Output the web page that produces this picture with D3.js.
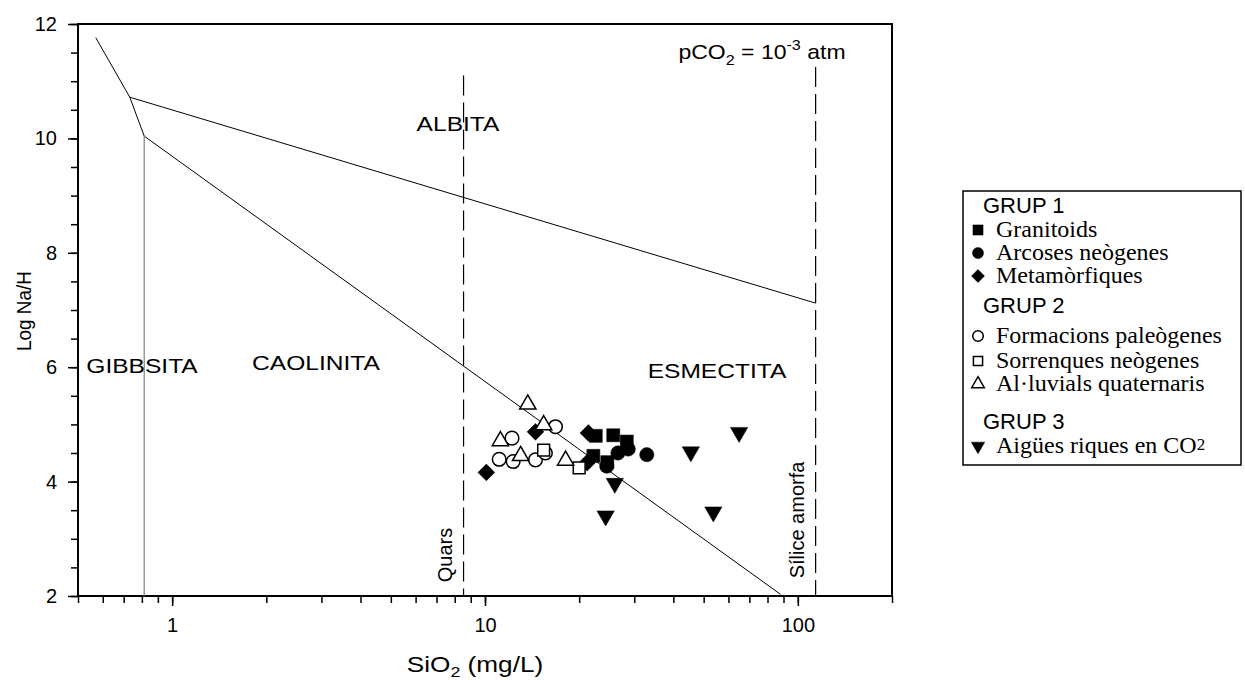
<!DOCTYPE html>
<html lang="ca">
<head>
  <meta charset="UTF-8">
  <title>Log Na/H vs SiO2</title>
  <style>
    body { margin: 0; background: #fff; }
    svg { display: block; }
    .tick text { font-family: Arial, 'Liberation Sans', sans-serif; font-size: 20px; fill: #000; }
    .lab { font-family: Arial, 'Liberation Sans', sans-serif; fill: #000; }
    .leg { font-family: 'Times New Roman', 'Liberation Serif', serif; font-size: 24px; fill: #000; }
  </style>
</head>
<body>
  <svg id="chart" width="1245" height="680"></svg>
  <script src="https://d3js.org/d3.v7.min.js"></script>
  <script>
    // samples: [SiO2 mg/L, log Na/H]
    const granitoids = [[22.6, 4.80], [25.7, 4.81], [28.4, 4.70], [22.2, 4.45], [24.6, 4.34]];
    const arcoses = [[32.9, 4.47], [28.7, 4.57], [26.6, 4.50], [24.5, 4.27]];
    const metamorfiques = [[10.1, 4.16], [14.5, 4.87], [21.4, 4.85], [21.2, 4.33]];
    const paleogenes = [[16.8, 4.96], [12.2, 4.76], [11.1, 4.39], [12.3, 4.35], [14.5, 4.38], [15.6, 4.50]];
    const sorrenques = [[15.4, 4.55], [20.0, 4.24]];
    const alluvials = [[13.7, 5.35], [15.4, 4.99], [11.2, 4.71], [13.0, 4.45], [18.1, 4.37]];
    const aiguesCO2 = [[64.9, 4.86], [45.5, 4.52], [26.0, 3.97], [24.3, 3.40], [53.7, 3.47]];

    // stability field boundaries
    const gibbsitaTop = [[0.57, 11.76], [0.732, 10.72], [0.814, 10.04]];
    const albitaLine = [[0.732, 10.72], [114, 7.12]];
    const caolinitaLine = [[0.814, 10.04], [88, 2.03]];
    const gibbsitaVert = [[0.814, 10.04], [0.814, 2]];
    const quarsLine = [[8.54, 11.1], [8.54, 2]];
    const siliceLine = [[114, 11.25], [114, 2]];

    const yTicks = [2, 4, 6, 8, 10, 12];
    const xLabels = [1, 10, 100];

    const svg = d3.select('#chart');
    const mLeft = 78, mTop = 24, mRight = 892, mBottom = 596;
    const x = d3.scaleLog().domain([0.5, 200]).range([mLeft, mRight]);
    const y = d3.scaleLinear().domain([2, 12]).range([mBottom, mTop]);

    // x axis with minor ticks at every integer multiple
    const xMinor = [];
    [0.1, 1, 10, 100].forEach(d => { for (let k = 1; k < 10; k++) { const v = +(k * d).toFixed(3); if (v >= 0.5 && v <= 200) xMinor.push(v); } });
    svg.append('g').attr('transform', `translate(0,${mBottom})`)
      .call(d3.axisBottom(x).tickValues(xMinor).tickSize(7).tickFormat(''))
      .call(g => g.select('.domain').remove());
    svg.append('g').attr('transform', `translate(0,${mBottom})`)
      .call(d3.axisBottom(x).tickValues(xLabels).tickSize(10).tickPadding(12).tickFormat(d3.format('d')))
      .call(g => g.select('.domain').remove());

    const yMinor = d3.range(2, 12.01, 0.5);
    svg.append('g').attr('transform', `translate(${mLeft},0)`)
      .call(d3.axisLeft(y).tickValues(yMinor).tickSize(7).tickFormat(''))
      .call(g => g.select('.domain').remove());
    svg.append('g').attr('transform', `translate(${mLeft},0)`)
      .call(d3.axisLeft(y).tickValues(yTicks).tickSize(10).tickPadding(11).tickFormat(d3.format('d')))
      .call(g => g.select('.domain').remove());
    svg.selectAll('.tick line').attr('stroke', '#000').attr('stroke-width', 1.5);

    // frame
    svg.append('rect').attr('x', mLeft).attr('y', mTop)
      .attr('width', mRight - mLeft).attr('height', mBottom - mTop)
      .attr('fill', 'none').attr('stroke', '#000').attr('stroke-width', 2);

    const line = d3.line().x(d => x(d[0])).y(d => y(d[1]));
    [gibbsitaTop, albitaLine, caolinitaLine].forEach(p =>
      svg.append('path').attr('d', line(p)).attr('fill', 'none').attr('stroke', '#000').attr('stroke-width', 1));
    svg.append('path').attr('d', line(gibbsitaVert)).attr('fill', 'none').attr('stroke', '#808080').attr('stroke-width', 1.2);
    [quarsLine, siliceLine].forEach(p =>
      svg.append('path').attr('d', line(p)).attr('fill', 'none').attr('stroke', '#000')
        .attr('stroke-width', 1.2).attr('stroke-dasharray', '20,7'));

    // field labels (the original text is a little wider than plain Arial)
    const labels = [
      { t: 'ALBITA', x: 458, y: 131 },
      { t: 'GIBBSITA', x: 142, y: 373 },
      { t: 'CAOLINITA', x: 316, y: 370 },
      { t: 'ESMECTITA', x: 717, y: 378 }
    ];
    labels.forEach(l => svg.append('text').attr('class', 'lab')
      .attr('transform', `translate(${l.x},${l.y}) scale(1.17,1)`)
      .attr('text-anchor', 'middle').attr('font-size', 21).text(l.t));

    const pco = svg.append('text').attr('class', 'lab')
      .attr('transform', 'translate(762,59) scale(1.15,1)')
      .attr('text-anchor', 'middle').attr('font-size', 20);
    pco.append('tspan').text('pCO');
    pco.append('tspan').attr('font-size', 14).attr('dy', 6).text('2');
    pco.append('tspan').attr('dy', -6).text(' = 10');
    pco.append('tspan').attr('font-size', 14).attr('dy', -9).text('-3');
    pco.append('tspan').attr('dy', 9).text(' atm');

    svg.append('text').attr('class', 'lab').attr('font-size', 20).attr('text-anchor', 'middle')
      .attr('transform', `translate(452,555) rotate(-90)`).text('Quars');
    svg.append('text').attr('class', 'lab').attr('font-size', 20).attr('text-anchor', 'middle')
      .attr('transform', `translate(804,520) rotate(-90)`).text('Sílice amorfa');

    // axis titles
    svg.append('text').attr('class', 'lab').attr('font-size', 21).attr('text-anchor', 'middle')
      .attr('transform', `translate(31,311) rotate(-90) scale(0.9,1)`).text('Log Na/H');
    const xt = svg.append('text').attr('class', 'lab').attr('font-size', 22).attr('text-anchor', 'middle')
      .attr('transform', 'translate(475,672) scale(1.19,1)');
    xt.append('tspan').text('SiO');
    xt.append('tspan').attr('font-size', 15).attr('dy', 5).text('2');
    xt.append('tspan').attr('dy', -5).text(' (mg/L)');

    // markers
    const series = [
      { name: 'Granitoids', data: granitoids, type: d3.symbolSquare, size: 170, fill: '#000', rot: 0 },
      { name: 'Arcoses neògenes', data: arcoses, type: d3.symbolCircle, size: 160, fill: '#000', rot: 0 },
      { name: 'Metamòrfiques', data: metamorfiques, type: d3.symbolSquare, size: 140, fill: '#000', rot: 45 },
      { name: 'Formacions paleògenes', data: paleogenes, type: d3.symbolCircle, size: 145, fill: '#fff', rot: 0 },
      { name: 'Sorrenques neògenes', data: sorrenques, type: d3.symbolSquare, size: 140, fill: '#fff', rot: 0 },
      { name: 'Al·luvials quaternaris', data: alluvials, type: d3.symbolTriangle, size: 115, fill: '#fff', rot: 0 },
      { name: 'Aigües riques en CO2', data: aiguesCO2, type: d3.symbolTriangle, size: 130, fill: '#000', rot: 180 }
    ];
    series.forEach(s => {
      svg.append('g').selectAll('path').data(s.data).enter().append('path')
        .attr('d', d3.symbol().type(s.type).size(s.size))
        .attr('transform', d => `translate(${x(d[0])},${y(d[1])}) rotate(${s.rot})`)
        .attr('fill', s.fill).attr('stroke', '#000').attr('stroke-width', s.fill === '#fff' ? 1.5 : 0.5);
    });

    // legend
    const lg = svg.append('g');
    lg.append('rect').attr('x', 963).attr('y', 191).attr('width', 278).attr('height', 274)
      .attr('fill', '#fff').attr('stroke', '#000').attr('stroke-width', 1.5);
    const rows = [
      { g: 'GRUP 1', y: 205 },
      { s: 0, y: 229 }, { s: 1, y: 252 }, { s: 2, y: 275 },
      { g: 'GRUP 2', y: 305 },
      { s: 3, y: 335 }, { s: 4, y: 360 }, { s: 5, y: 383 },
      { g: 'GRUP 3', y: 421 },
      { s: 6, y: 445 }
    ];
    rows.forEach(r => {
      if (r.g) {
        lg.append('text').attr('class', 'lab').attr('font-size', 22).attr('x', 983).attr('y', r.y + 8).text(r.g);
      } else {
        const s = series[r.s];
        lg.append('path').attr('d', d3.symbol().type(s.type).size(s.size * 0.6))
          .attr('transform', `translate(978,${r.y + 1}) rotate(${s.rot})`)
          .attr('fill', s.fill).attr('stroke', '#000').attr('stroke-width', s.fill === '#fff' ? 1.5 : 0.5);
        const t = lg.append('text').attr('class', 'leg').attr('x', 996).attr('y', r.y + 8);
        if (r.s === 6) {
          t.append('tspan').text('Aigües riques en CO');
          t.append('tspan').attr('font-size', 17).attr('dy', -3).text('2');
        } else {
          t.text(s.name);
        }
      }
    });
  </script>
</body>
</html>
